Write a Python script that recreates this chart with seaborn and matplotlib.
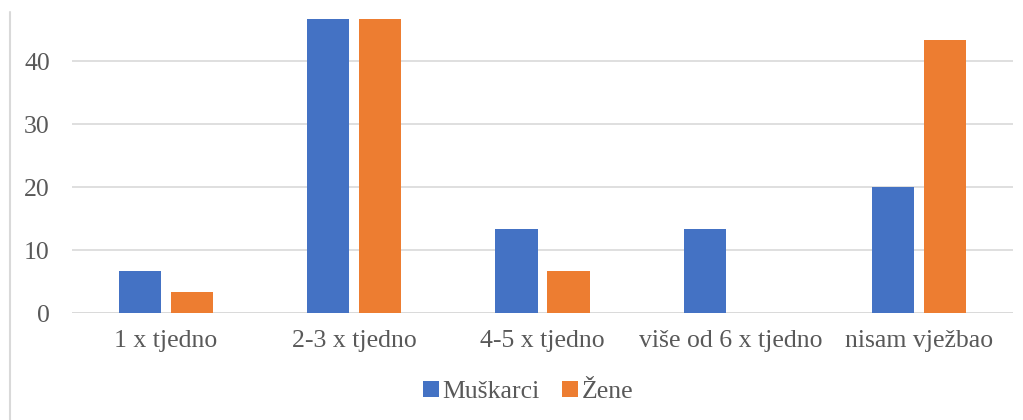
import numpy as np
import pandas as pd
import matplotlib.pyplot as plt
import seaborn as sns
from matplotlib.lines import Line2D

kategorije = ['1 x tjedno', '2-3 x tjedno', '4-5 x tjedno', 'više od 6 x tjedno', 'nisam vježbao']
muskarci = [6.67, 46.67, 13.33, 13.33, 20.0]
zene = [3.33, 46.67, 6.67, 0.0, 43.33]
serije = ['Muškarci', 'Žene']
boje = ['#4472C4', '#ED7D31']

data = pd.DataFrame({
    'kategorija': kategorije * 2,
    'spol': [serije[0]] * len(kategorije) + [serije[1]] * len(kategorije),
    'postotak': muskarci + zene,
})

sns.set_style('white')
plt.rcParams['font.family'] = 'serif'
plt.rcParams['font.serif'] = ['Liberation Serif', 'Times New Roman', 'DejaVu Serif']

fig = plt.figure(figsize=(10.23, 4.2), dpi=100)
ax = fig.add_axes([72 / 1023, 107 / 420, 941 / 1023, 296 / 420])

sns.barplot(data=data, x='kategorija', y='postotak', hue='spol', order=kategorije,
            hue_order=serije, palette=boje, saturation=1, width=0.553, gap=0.19,
            edgecolor='none', ax=ax)

ax.set_ylim(0, 47)
ax.set_xlim(-0.5, len(kategorije) - 0.5)
ax.set_yticks([0, 10, 20, 30, 40])
ax.yaxis.grid(True, color='#d9d9d9', linewidth=1.2)
ax.set_axisbelow(True)
for s in ax.spines.values():
    s.set_visible(False)
ax.axhline(0, color='#d9d9d9', linewidth=1.2, zorder=0)
ax.set_xlabel('')
ax.set_ylabel('')
ax.tick_params(axis='x', length=0, pad=12, labelsize=18.5, labelcolor='#595959')
ax.tick_params(axis='y', length=0, pad=16, labelsize=18.5, labelcolor='#595959')

handles, labels = ax.get_legend_handles_labels()
ax.legend(handles, labels, loc='center', bbox_to_anchor=(528 / 1023, 28 / 420),
          bbox_transform=fig.transFigure, ncol=2, frameon=False, fontsize=18.5,
          handlelength=0.62, handleheight=0.62, handletextpad=0.12, columnspacing=0.9,
          labelcolor='#595959')

fig.add_artist(Line2D([10 / 1023, 10 / 1023], [0, 408 / 420], color='#d9d9d9',
                      linewidth=1.5, transform=fig.transFigure))

fig.savefig('out.png', dpi=100)
